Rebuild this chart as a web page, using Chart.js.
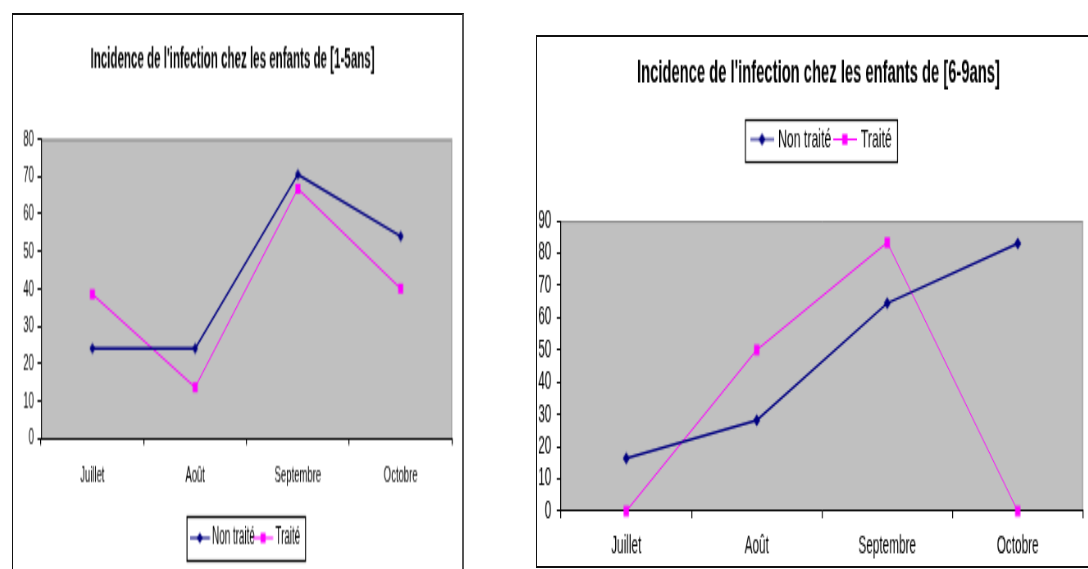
<!DOCTYPE html>
<html lang="fr">
<head>
<meta charset="utf-8">
<title>Incidence de l'infection chez les enfants</title>
<script src="https://cdn.jsdelivr.net/npm/chart.js@4/dist/chart.umd.min.js"></script>
<style>
html,body{margin:0;padding:0;background:#fff;}
body{width:1088px;height:569px;position:relative;overflow:hidden;}
.frame{position:absolute;box-sizing:border-box;}
#frameA{left:12px;top:13px;width:452px;height:620px;border:1px solid #111;border-top-width:2px;border-right:2px solid #555;}
#frameB{left:536px;top:35px;width:620px;height:533px;border:1px solid #111;border-top-width:2px;border-bottom-width:2px;}
.stretch{position:absolute;transform-origin:0 0;}
/* narrow, tall rendering of each chart */
#wrapA{left:13px;top:14px;transform:scale(0.82,2);}
#wrapB{left:538px;top:37px;transform:scale(0.82,1.75);}
canvas{display:block;}
</style>
</head>
<body>
<div class="frame" id="frameA"></div>
<div class="frame" id="frameB"></div>
<div class="stretch" id="wrapA"><canvas id="chartA" width="546" height="278"></canvas></div>
<div class="stretch" id="wrapB"><canvas id="chartB" width="684" height="303"></canvas></div>
<script>
// Mois observés
const months = ['Juillet', 'Août', 'Septembre', 'Octobre'];
const seriesNames = ['Non traité', 'Traité'];

// Enfants de 1 à 5 ans
const title1a5 = "Incidence de l'infection chez les enfants de [1-5ans]";
const nonTraite1a5 = [24, 24, 70.5, 54];
const traite1a5 = [38.5, 13.6, 66.7, 40];
const yTicks1a5 = [0, 10, 20, 30, 40, 50, 60, 70, 80];

// Enfants de 6 à 9 ans
const title6a9 = "Incidence de l'infection chez les enfants de [6-9ans]";
const nonTraite6a9 = [16.4, 28.2, 64.5, 83];
const traite6a9 = [0, 50, 83.3, 0];
const yTicks6a9 = [0, 10, 20, 30, 40, 50, 60, 70, 80, 90];

const NAVY = '#000080';
const MAGENTA = '#ff00ff';

Chart.defaults.font.family = "'Liberation Sans', Arial, sans-serif";
Chart.defaults.color = '#000';

// Grey plot area with a thin darker rim on top and right
const plotFrame = {
  id: 'plotFrame',
  beforeDraw(chart) {
    const { ctx, chartArea: a } = chart;
    ctx.save();
    ctx.fillStyle = '#c0c0c0';
    ctx.fillRect(a.left, a.top, a.right - a.left, a.bottom - a.top);
    ctx.lineWidth = 1;
    ctx.strokeStyle = '#808080';
    ctx.beginPath();
    ctx.moveTo(a.left, a.top + 0.5);
    ctx.lineTo(a.right, a.top + 0.5);
    ctx.stroke();
    ctx.strokeStyle = '#a0a0a0';
    ctx.lineWidth = 1.3;
    ctx.beginPath();
    ctx.moveTo(a.right - 0.6, a.top);
    ctx.lineTo(a.right - 0.6, a.bottom);
    ctx.stroke();
    ctx.restore();
  }
};

// Black rectangle around the legend entries
const legendFrame = {
  id: 'legendFrame',
  afterDraw(chart, args, opts) {
    const boxes = chart.legend && chart.legend.legendHitBoxes;
    if (!boxes || !boxes.length) return;
    const first = boxes[0];
    const last = boxes[boxes.length - 1];
    const cy = first.top + first.height / 2;
    const x0 = first.left - opts.padLeft;
    const x1 = last.left + last.width + opts.padRight;
    const y0 = Math.round(cy - opts.halfHeight) + 0.5;
    const y1 = Math.round(cy + opts.halfHeight) + 0.5;
    const ctx = chart.ctx;
    ctx.save();
    ctx.strokeStyle = '#000';
    ctx.lineWidth = 1.2;
    ctx.strokeRect(x0, y0, x1 - x0, y1 - y0);
    ctx.restore();
  }
};

// Series marker drawn as a small bitmap (diamond or square)
function drawMarker(g, shape, cx, cy, w, h) {
  g.beginPath();
  if (shape === 'diamond') {
    g.moveTo(cx, cy - h / 2); g.lineTo(cx + w / 2, cy);
    g.lineTo(cx, cy + h / 2); g.lineTo(cx - w / 2, cy);
    g.closePath();
  } else {
    g.rect(cx - w / 2, cy - h / 2, w, h);
  }
  g.fill();
}

function markerImage(color, shape, w, h) {
  const c = document.createElement('canvas');
  c.width = Math.ceil(w) + 2; c.height = Math.ceil(h) + 2;
  const g = c.getContext('2d');
  g.fillStyle = color;
  drawMarker(g, shape, c.width / 2, c.height / 2, w, h);
  return c;
}

// Legend symbol: short line with the series marker in its middle
function legendSymbol(color, shape, len, w, h) {
  const c = document.createElement('canvas');
  c.width = Math.ceil(len); c.height = Math.ceil(h) + 2;
  const g = c.getContext('2d');
  const cy = c.height / 2;
  g.strokeStyle = color; g.fillStyle = color; g.lineWidth = 1.1;
  g.beginPath(); g.moveTo(0, cy); g.lineTo(len, cy); g.stroke();
  drawMarker(g, shape, len / 2, cy, w, h);
  return c;
}

function makeChart(id, cfg) {
  const yTicks = cfg.yTicks;
  const m = cfg.marker;
  const scales = {
    x: {
      type: 'category',
      offset: true,
      grid: { offset: true, drawOnChartArea: false, drawTicks: true, tickLength: cfg.xTickLen, color: '#000', lineWidth: 1.2 },
      border: { display: true, color: '#000', width: 1 },
      ticks: { font: { size: cfg.tickSize }, color: '#000', padding: cfg.xLabelPad, maxRotation: 0, autoSkip: false },
      afterFit(scale) { scale.height = cfg.xHeight; }
    },
    y: {
      min: yTicks[0], max: yTicks[yTicks.length - 1],
      afterBuildTicks(scale) { scale.ticks = yTicks.map(v => ({ value: v })); },
      grid: { drawOnChartArea: false, drawTicks: true, tickLength: cfg.yTickLen, color: '#000', lineWidth: 1 },
      border: { display: true, color: '#000', width: 1.2 },
      ticks: { font: { size: cfg.tickSize }, color: '#000', padding: cfg.yLabelPad, autoSkip: false },
      afterFit(scale) { scale.width = cfg.yWidth; }
    }
  };
  if (cfg.rightGap) {
    // empty margin between the plot and the right edge, kept out of the title's width
    scales.gap = {
      type: 'linear', position: 'right', display: true,
      grid: { display: false, drawTicks: false }, border: { display: false }, ticks: { display: false },
      afterFit(scale) { scale.width = cfg.rightGap; }
    };
  }
  return new Chart(document.getElementById(id), {
    type: 'line',
    data: {
      labels: months,
      datasets: [
        {
          label: seriesNames[0], data: cfg.nonTraite,
          borderColor: NAVY, backgroundColor: NAVY, borderWidth: 1.4,
          pointStyle: markerImage(NAVY, 'diamond', m.dw, m.dh),
          pointRadius: 4, tension: 0, clip: false
        },
        {
          label: seriesNames[1], data: cfg.traite,
          borderColor: MAGENTA, backgroundColor: MAGENTA, borderWidth: 1,
          pointStyle: markerImage(MAGENTA, 'square', m.sw, m.sh),
          pointRadius: 4, tension: 0, clip: false
        }
      ]
    },
    options: {
      responsive: false,
      animation: false,
      events: [],
      layout: { padding: cfg.padding },
      scales,
      plugins: {
        tooltip: { enabled: false },
        title: {
          display: true, text: cfg.title, color: '#000',
          font: { size: cfg.titleSize, weight: 'bold', lineHeight: 1.2 },
          padding: cfg.titlePad
        },
        subtitle: cfg.spacer ? {
          display: true, text: '', font: { size: 1, lineHeight: 1 }, padding: { top: 0, bottom: cfg.spacer }
        } : { display: false },
        legend: {
          display: true, position: cfg.legendPos, fullSize: false, weight: cfg.legendWeight,
          labels: {
            font: { size: cfg.legendSize }, color: '#000', padding: cfg.legendPad,
            usePointStyle: true, pointStyleWidth: cfg.symbolBox,
            generateLabels(chart) {
              return chart.data.datasets.map((ds, i) => ({
                text: ds.label,
                pointStyle: legendSymbol(ds.borderColor, i === 0 ? 'diamond' : 'square', cfg.symbolLen,
                  i === 0 ? m.dw : m.sw, i === 0 ? m.dh : m.sh),
                fillStyle: ds.borderColor, strokeStyle: ds.borderColor, lineWidth: 0,
                hidden: false, datasetIndex: i, fontColor: '#000'
              }));
            }
          }
        },
        legendFrame: cfg.legendFrame
      }
    },
    plugins: [plotFrame, legendFrame]
  });
}

makeChart('chartA', {
  title: title1a5, nonTraite: nonTraite1a5, traite: traite1a5, yTicks: yTicks1a5,
  titleSize: 14.1, tickSize: 11.6, legendSize: 12,
  titlePad: { top: 14.5, bottom: 31.1 },
  padding: { top: 0, left: 0, right: 10.6, bottom: 0 },
  xHeight: 42.4, xTickLen: 3.5, xLabelPad: 7.8,
  yWidth: 34.1, yTickLen: 4.3, yLabelPad: 4.3,
  legendPos: 'bottom', legendWeight: 1000, legendPad: 1.5,
  symbolBox: 17.6, symbolLen: 24.4,
  legendFrame: { padLeft: 7.1, padRight: 6.5, halfHeight: 10.75 },
  marker: { dw: 7.3, dh: 5.5, sw: 6.1, sh: 5 }
});

makeChart('chartB', {
  title: title6a9, nonTraite: nonTraite6a9, traite: traite6a9, yTicks: yTicks6a9,
  titleSize: 18, tickSize: 14.4, legendSize: 15,
  titlePad: { top: 9.8, bottom: 15.1 },
  spacer: 28.1,
  padding: { top: 0, left: 0, right: 0, bottom: 0 },
  rightGap: 19.4,
  xHeight: 32.1, xTickLen: 4, xLabelPad: 7.9,
  yWidth: 28, yTickLen: 5.2, yLabelPad: 6.5,
  legendPos: 'top', legendWeight: 1800, legendPad: 4.5,
  symbolBox: 24, symbolLen: 29,
  legendFrame: { padLeft: 8.2, padRight: 7, halfHeight: 12 },
  marker: { dw: 8.5, dh: 7.2, sw: 6.5, sh: 6.1 }
});
</script>
</body>
</html>
